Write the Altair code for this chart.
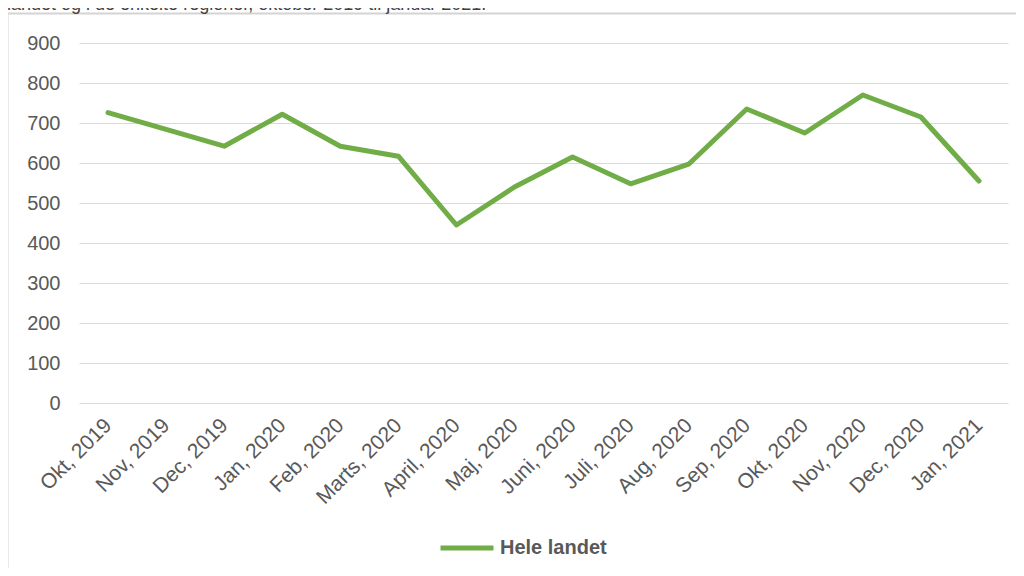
import altair as alt
import pandas as pd

months = ["Okt, 2019", "Nov, 2019", "Dec, 2019", "Jan, 2020", "Feb, 2020",
          "Marts, 2020", "April, 2020", "Maj, 2020", "Juni, 2020", "Juli, 2020",
          "Aug, 2020", "Sep, 2020", "Okt, 2020", "Nov, 2020", "Dec, 2020", "Jan, 2021"]
values = [726, 684, 642, 722, 642, 617, 445, 540, 615, 548, 597, 735, 675, 770, 715, 555]
series = "Hele landet"
title_text = "landet og i de enkelte regioner, oktober 2019 til januar 2021."
y_ticks = [0, 100, 200, 300, 400, 500, 600, 700, 800, 900]

df = pd.DataFrame({"month": months, "value": values, "series": [series] * len(months)})

FONT = "Liberation Sans"
GRAY = "#595959"
GREEN = "#70ad47"
FS = 20

line = alt.Chart(df).mark_line(strokeWidth=5, strokeCap="round", strokeJoin="round").encode(
    x=alt.X("month:O", sort=months, scale=alt.Scale(type="point", padding=0.5),
            axis=alt.Axis(title=None, labelAngle=-45, labelFontSize=21, labelColor=GRAY,
                          labelFont=FONT, labelPadding=19, labelBaseline="middle",
                          labelAlign="right", ticks=False, domain=False, grid=False)),
    y=alt.Y("value:Q", scale=alt.Scale(domain=[0, 900], nice=False),
            axis=alt.Axis(title=None, values=y_ticks, labelFontSize=FS, labelColor=GRAY,
                          labelFont=FONT, labelPadding=19, ticks=False, domain=False,
                          grid=True, gridColor="#d9d9d9", gridWidth=1)),
    color=alt.Color("series:N", scale=alt.Scale(range=[GREEN]),
                    legend=alt.Legend(title=None, orient="none", legendX=359, legendY=476,
                                      symbolType="stroke", symbolSize=2809,
                                      symbolStrokeWidth=5, labelFontSize=FS,
                                      labelFontWeight="bold", labelColor=GRAY,
                                      labelFont=FONT, labelOffset=4)),
)

title_df = pd.DataFrame({"t": [title_text]})
title = alt.Chart(title_df).mark_text(align="left", baseline="alphabetic", fontSize=18,
                                      font=FONT, color="#404040").encode(
    text="t:N", x=alt.value(-72), y=alt.value(-33.5))

frame_top = alt.Chart(title_df).mark_rule(color="#d4d4d4", strokeWidth=2).encode(
    x=alt.value(-72), x2=alt.value(945), y=alt.value(-29.5), y2=alt.value(-29.5))
frame_left = alt.Chart(title_df).mark_rule(color="#d4d4d4", strokeWidth=2).encode(
    x=alt.value(-71.5), x2=alt.value(-71.5), y=alt.value(-29.5), y2=alt.value(540))

chart = alt.layer(frame_top, frame_left, title, line).properties(
    width=929, height=360,
    autosize=alt.AutoSizeParams(type="none"),
    padding={"left": 71, "top": 35, "right": 8, "bottom": 165},
).configure_view(stroke=None)

chart.save("out.html", embed_options={"renderer": "svg", "actions": False,
                                      "defaultStyle": "svg{overflow:visible}"})
